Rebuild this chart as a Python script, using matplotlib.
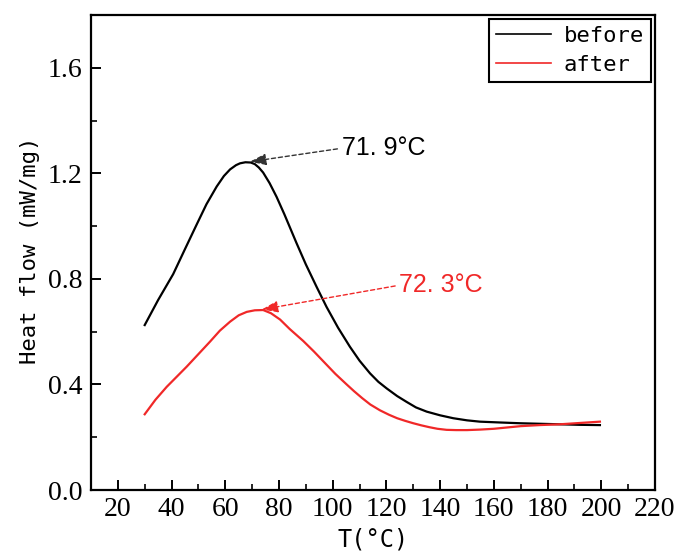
import matplotlib
matplotlib.use('Agg')
import matplotlib.pyplot as plt
from matplotlib.ticker import MultipleLocator

# DSC curves
black_T = [30, 35, 40.6, 45, 49.3, 53, 56.8, 59.5, 61.8, 64, 65.5, 67.5, 69.5, 71, 72.5, 74.1, 76.5, 79.1, 82, 86.6,
           90, 94, 97.7, 102, 106.4, 110, 113.9, 117, 120.1, 124, 127.5, 131, 135, 140, 144.9, 150, 154.8, 162,
           169.7, 177, 184.6, 192, 199.5]
black_hf = [0.625, 0.72, 0.818, 0.913, 1.005, 1.083, 1.15, 1.19, 1.215, 1.231, 1.238, 1.242, 1.241, 1.235, 1.222,
            1.203, 1.163, 1.111, 1.045, 0.934, 0.855, 0.77, 0.694, 0.615, 0.543, 0.49, 0.442, 0.41, 0.385, 0.356,
            0.334, 0.313, 0.297, 0.283, 0.272, 0.264, 0.259, 0.256, 0.253, 0.251, 0.249, 0.247, 0.246]

red_T = [30, 34, 38.2, 42, 45.6, 50, 54.3, 58, 61.8, 65, 68, 71, 74.1, 77, 80.4, 84, 89, 93, 97.7, 101, 105.2, 108,
         111, 114, 117.6, 121, 124, 127, 130, 133, 136, 139, 142.4, 146, 150, 155, 160, 165, 170, 177, 184.6, 192,
         199.5]
red_hf = [0.287, 0.342, 0.391, 0.43, 0.467, 0.515, 0.562, 0.604, 0.638, 0.662, 0.675, 0.681, 0.682, 0.67, 0.646,
          0.61, 0.565, 0.525, 0.475, 0.44, 0.4, 0.374, 0.348, 0.324, 0.302, 0.285, 0.272, 0.262, 0.253, 0.245,
          0.238, 0.232, 0.228, 0.227, 0.227, 0.229, 0.232, 0.237, 0.242, 0.246, 0.249, 0.254, 0.259]

series_names = ['before', 'after']
peak_labels = ['71. 9°C', '72. 3°C']
peak_xy = [(69.2, 1.244), (73.6, 0.684)]
text_xy = [(103.3, 1.295), (124.8, 0.776)]

RED = '#f02828'

fig = plt.figure(figsize=(6.76, 5.56), dpi=100)
ax = fig.add_axes([0.1346, 0.1187, 0.8343, 0.8543])

ax.plot(black_T, black_hf, color='black', lw=1.6, label=series_names[0])
ax.plot(red_T, red_hf, color=RED, lw=1.6, label=series_names[1])

arrow_cols = ['#333333', RED]
text_cols = ['black', RED]
for lab, xy, txy, ac, tc in zip(peak_labels, peak_xy, text_xy, arrow_cols, text_cols):
    ax.annotate(lab, xy=xy, xytext=txy, ha='left', va='center',
                fontsize=18, family='Liberation Sans', color=tc,
                arrowprops=dict(arrowstyle='-|>,head_length=0.7,head_width=0.25', color=ac,
                                lw=1.0, linestyle=(0, (3, 2)), relpos=(0, 0.5),
                                shrinkA=1, shrinkB=0, mutation_scale=14))

ax.set_xlim(10, 220)
ax.set_ylim(0, 1.8)
ax.xaxis.set_major_locator(MultipleLocator(20))
ax.xaxis.set_minor_locator(MultipleLocator(10))
ax.yaxis.set_major_locator(MultipleLocator(0.4))
ax.yaxis.set_minor_locator(MultipleLocator(0.2))
ax.set_yticks([0, 0.4, 0.8, 1.2, 1.6])

ax.tick_params(which='both', direction='in', top=False, right=False)
ax.tick_params(which='major', length=7, width=1.4)
ax.tick_params(which='minor', length=4, width=1.2)
ax.tick_params(axis='x', pad=5)
ax.tick_params(axis='y', pad=6)
for t in ax.get_xticklabels() + ax.get_yticklabels():
    t.set_family('Liberation Serif')
    t.set_fontsize(20)
for s in ax.spines.values():
    s.set_linewidth(1.6)

ax.set_ylabel('Heat flow (mW/mg)', family='DejaVu Sans Mono', fontsize=16)
ax.yaxis.set_label_coords(-0.09, 0.505)
ax.set_xlabel('T(°C)', family='DejaVu Sans Mono', fontsize=17)
ax.xaxis.set_label_coords(0.5, -0.079)

leg = ax.legend(loc='upper right', prop={'family': 'DejaVu Sans Mono', 'size': 16},
                fancybox=False, frameon=True, edgecolor='black', framealpha=1,
                borderaxespad=0.2, handlelength=2.5, handletextpad=0.55,
                labelspacing=0.4, borderpad=0.3)
leg.get_frame().set_linewidth(1.5)
for line in leg.get_lines():
    line.set_linewidth(1.2)

fig.savefig('out.png', dpi=100)
